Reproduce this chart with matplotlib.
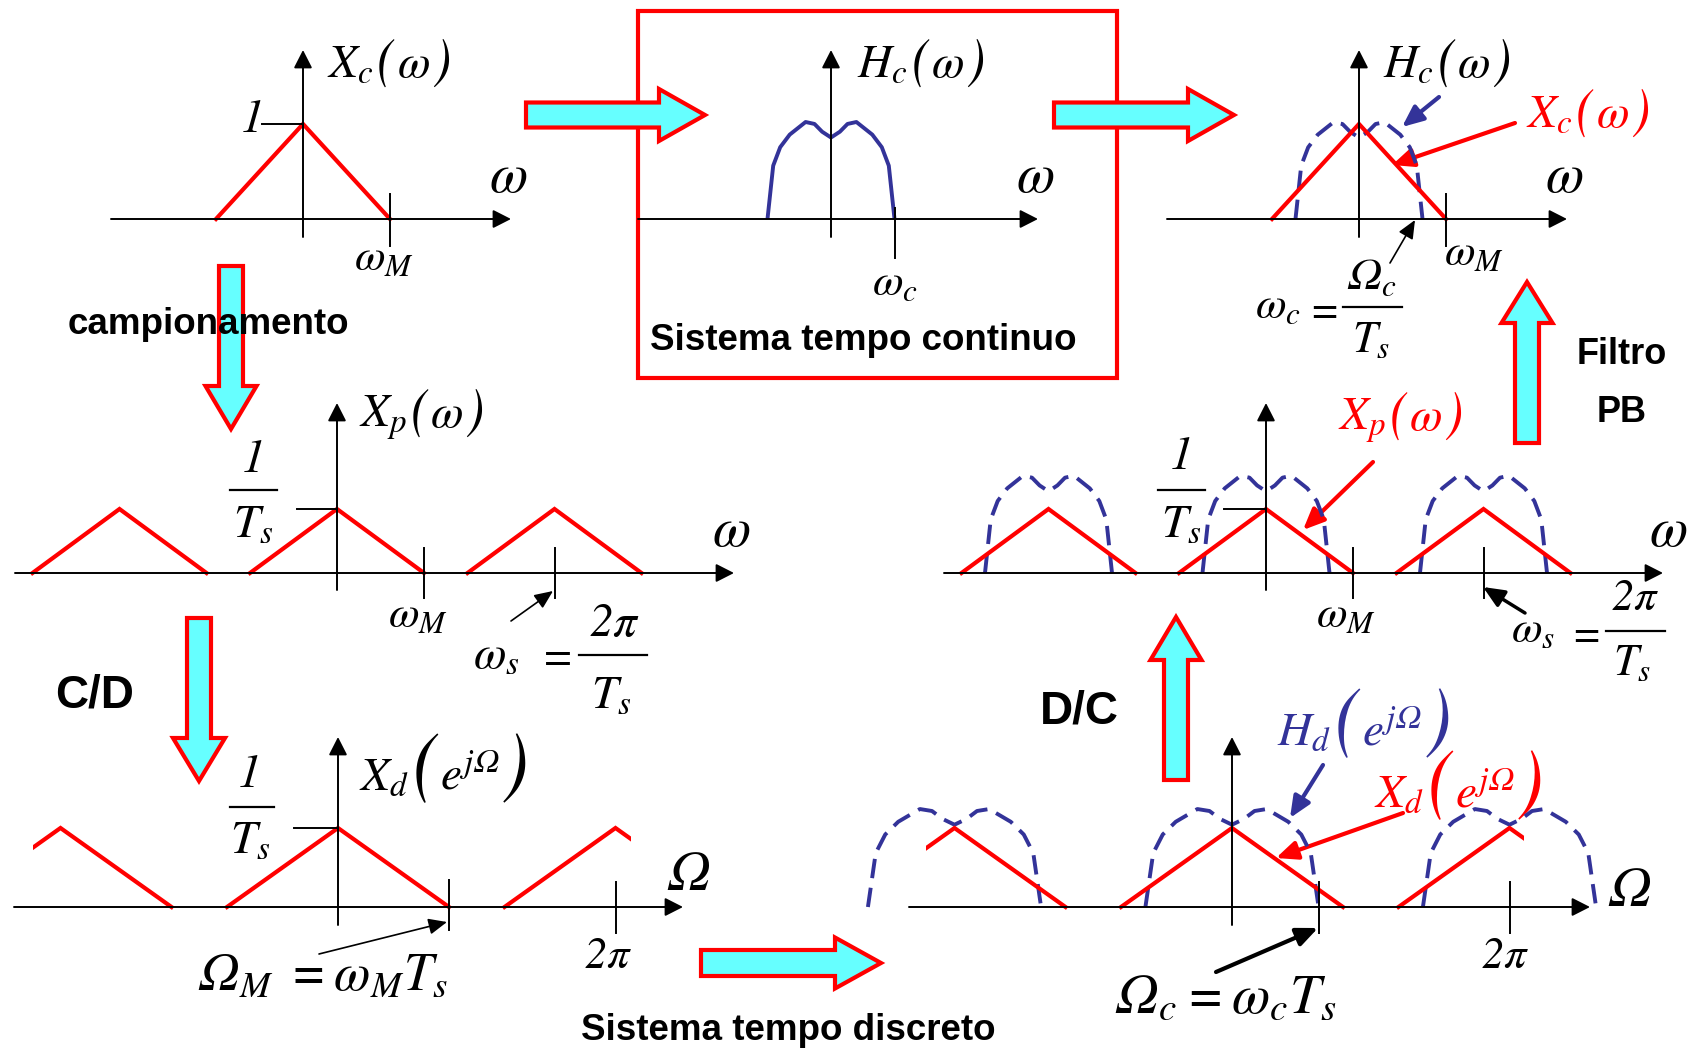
import numpy as np
import matplotlib
matplotlib.use("Agg")
import matplotlib.pyplot as plt
from matplotlib.patches import Polygon, Rectangle

# formule in stile Times corsivo (come l'editor di equazioni)
plt.rcParams['mathtext.fontset'] = 'custom'
plt.rcParams['mathtext.rm'] = 'STIXGeneral:italic'
plt.rcParams['mathtext.it'] = 'STIXGeneral:italic'
plt.rcParams['mathtext.bf'] = 'STIXGeneral:bold'
plt.rcParams['font.family'] = ['Liberation Sans', 'DejaVu Sans']

W, H = 1691, 1054
RED = '#FF0000'
BLUE = '#333399'
CYAN = '#66FFFF'

# === Dati (unità normalizzate) ===
# spettro triangolare: pulsazione / omega_M, ampiezza
TRI_W = [-1.0, 0.0, 1.0]
TRI_A = [0.0, 1.0, 0.0]
# filtro passa-basso, mezza forma: pulsazione / omega_c, guadagno / picco
HC_W = [0.0, 0.14, 0.26, 0.40, 0.65, 0.80, 0.91, 1.0]
HC_G = [0.84, 0.90, 0.98, 1.00, 0.87, 0.74, 0.55, 0.0]
REPLICAS = [-1, 0, 1]
WC_WM = 0.73      # omega_c / omega_M
WS_WM = 2.5       # omega_s / omega_M  (= 2pi / Omega_M nel discreto)
OMC_OMM = 0.78    # Omega_c / Omega_M
GAIN_HC = 1.0
GAIN_HC_X = 1.02
GAIN_HC_P = 1.52
GAIN_HD = 1.24

# posizione dei pannelli in pixel: origine, scala, estensione assi
PANELS = {
    'xc':  dict(o=(303, 219), s=(87, 95), xa=(111, 511), ya=(237, 50)),
    'hc':  dict(o=(831, 219), s=(87, 97), xa=(638, 1038), ya=(237, 50)),
    'y':   dict(o=(1359, 219), s=(87, 95), xa=(1167, 1567), ya=(237, 50)),
    'xp':  dict(o=(337, 573), s=(87, 64), xa=(15, 734), ya=(590, 403)),
    'xp2': dict(o=(1266, 573), s=(87, 64), xa=(944, 1663), ya=(590, 403)),
    'xd':  dict(o=(338, 907), s=(111, 79), xa=(14, 683), ya=(925, 737)),
    'xd2': dict(o=(1232, 907), s=(111, 79), xa=(909, 1590), ya=(925, 737)),
}

fig = plt.figure(figsize=(W / 100, H / 100), dpi=100)
base = fig.add_axes([0, 0, 1, 1])
base.set_xlim(0, W)
base.set_ylim(H, 0)
base.set_axis_off()
renderer = fig.canvas.get_renderer()

AXARROW = dict(arrowstyle='-|>,head_length=0.55,head_width=0.28', lw=1.4,
               color='black', shrinkA=0, shrinkB=0, mutation_scale=20)


def make_panel(p):
    ox, oy = p['o']
    sx, sy = p['s']
    ax = fig.add_axes([0, 0, 1, 1])
    ax.set_xlim(-ox / sx, (W - ox) / sx)
    ax.set_ylim(-(H - oy) / sy, oy / sy)
    ax.set_axis_off()
    ux = lambda x: (x - ox) / sx
    uy = lambda y: (oy - y) / sy
    ax.annotate('', xy=(ux(p['xa'][1]), 0), xytext=(ux(p['xa'][0]), 0), arrowprops=AXARROW)
    ax.annotate('', xy=(0, uy(p['ya'][1])), xytext=(0, uy(p['ya'][0])), arrowprops=AXARROW)
    return ax, ux, uy


def tick(ax, uy, x, y0, y1):
    ax.plot([x, x], [uy(y0), uy(y1)], color='black', lw=1.4)


def level(ax, ux, x0, amp):
    ax.plot([ux(x0), 0], [amp, amp], color='black', lw=1.4)


def triangles(ax, centers, clip=None):
    for c in centers:
        xs = c * WS_WM + np.array(TRI_W)
        ln, = ax.plot(xs, TRI_A, color=RED, lw=3, solid_joinstyle='miter')
        if clip is not None:
            ln.set_clip_path(Rectangle((clip[0], -5), clip[1] - clip[0], 10,
                                       transform=ax.transData))


def filt(ax, center, width, gain, dashed):
    w = np.concatenate([-np.array(HC_W[::-1]), np.array(HC_W[1:])])
    g = np.concatenate([HC_G[::-1], HC_G[1:]])
    ax.plot(center + w * width, g * gain, color=BLUE, lw=2.8,
            ls=(0, (5, 2.5)) if dashed else '-', solid_capstyle='butt')


def block_arrow(tail, tip, shaft_w, head_w, head_len):
    tail = np.array(tail, float)
    tip = np.array(tip, float)
    d = tip - tail
    u = d / np.hypot(*d)
    n = np.array([-u[1], u[0]])
    b = tip - u * head_len
    pts = [tail + n * shaft_w / 2, b + n * shaft_w / 2, b + n * head_w / 2, tip,
           b - n * head_w / 2, b - n * shaft_w / 2, tail - n * shaft_w / 2]
    base.add_patch(Polygon(pts, closed=True, fc=CYAN, ec=RED, lw=3,
                           joinstyle='miter', zorder=4))


def pointer(tail, tip, color='black', lw=1.2, scale=14):
    base.annotate('', xy=tip, xytext=tail,
                  arrowprops=dict(arrowstyle='-|>,head_length=0.8,head_width=0.35',
                                  color=color, lw=lw, shrinkA=0, shrinkB=0,
                                  mutation_scale=scale))


def T(x, y, s, size=34, color='black', ha='left', va='baseline', **kw):
    return base.text(x, y, s, fontsize=size, color=color, ha=ha, va=va, zorder=6, **kw)


def flabel(x, y, name, arg, size=34, psize=40, color='black', pdy=0):
    # nome della funzione seguito da argomento tra parentesi grandi
    pieces = [('$%s$' % name, size, 0, 3), ('$($', psize, pdy, 1),
              ('$%s$' % arg, size, 0, 2), ('$)$', psize, pdy, 0)]
    for s, sz, dy, gap in pieces:
        t = T(x, y + dy, s, size=sz, color=color)
        x += t.get_window_extent(renderer).width + gap


def bold(x, y, s, size=26.5):
    base.text(x, y, s, fontsize=size, fontweight='bold', ha='center', va='center', zorder=6)


def frac_bar(x0, x1, y):
    base.plot([x0, x1], [y, y], color='black', lw=1.6)


# --- riquadro sistema tempo continuo ---
base.add_patch(Rectangle((638, 11), 1117 - 638, 378 - 11, fill=False, ec=RED, lw=3, zorder=2))

# --- frecce a blocchi ---
block_arrow((526, 115), (705, 115), 25, 52, 46)
block_arrow((1054, 115), (1234, 115), 25, 52, 46)
block_arrow((231, 266), (231, 429), 24, 51, 43)
block_arrow((199, 618), (199, 781), 24, 52, 43)
block_arrow((701, 963), (881, 963), 26, 51, 46)
block_arrow((1176, 780), (1176, 617), 24, 51, 43)
block_arrow((1527, 443), (1527, 282), 24, 51, 41)

# --- pannello X_c ---
ax, ux, uy = make_panel(PANELS['xc'])
triangles(ax, [0])
tick(ax, uy, 1, 194, 246)
level(ax, ux, 262, 1)

# --- pannello H_c ---
ax, ux, uy = make_panel(PANELS['hc'])
filt(ax, 0, WC_WM, GAIN_HC, dashed=False)
tick(ax, uy, WC_WM, 208, 258)

# --- pannello uscita X_c con H_c ---
ax, ux, uy = make_panel(PANELS['y'])
filt(ax, 0, WC_WM, GAIN_HC_X, dashed=True)
triangles(ax, [0])
tick(ax, uy, 1, 194, 246)

# --- pannello X_p ---
ax, ux, uy = make_panel(PANELS['xp'])
triangles(ax, REPLICAS)
tick(ax, uy, 1, 548, 598)
tick(ax, uy, WS_WM, 548, 598)
level(ax, ux, 297, 1)

# --- pannello X_p con H_c ---
ax, ux, uy = make_panel(PANELS['xp2'])
for c in REPLICAS:
    filt(ax, c * WS_WM, WC_WM, GAIN_HC_P, dashed=True)
triangles(ax, REPLICAS)
tick(ax, uy, 1, 548, 598)
tick(ax, uy, WS_WM, 548, 598)
level(ax, ux, 1224, 1)

# --- pannello X_d ---
ax, ux, uy = make_panel(PANELS['xd'])
triangles(ax, REPLICAS, clip=(ux(33), ux(631)))
tick(ax, uy, 1, 880, 930)
tick(ax, uy, WS_WM, 882, 933)
level(ax, ux, 294, 1)

# --- pannello X_d con H_d ---
ax, ux, uy = make_panel(PANELS['xd2'])
for c in REPLICAS:
    filt(ax, c * WS_WM, OMC_OMM, GAIN_HD, dashed=True)
triangles(ax, REPLICAS, clip=(ux(926), ux(1524)))
tick(ax, uy, OMC_OMM, 882, 933)
tick(ax, uy, WS_WM, 882, 933)

# --- frecce indicatrici ---
pointer((511, 621), (553, 591))
pointer((319, 954), (447, 922))
pointer((1390, 263), (1415, 220))
pointer((1525, 613), (1483, 587), lw=2.5, scale=16)
pointer((1216, 972), (1318, 928), lw=3, scale=16)
pointer((1439, 97), (1402, 127), color=BLUE, lw=3, scale=16)
pointer((1323, 765), (1290, 818), color=BLUE, lw=3, scale=16)
pointer((1515, 123), (1392, 165), color=RED, lw=3, scale=16)
pointer((1373, 462), (1303, 530), color=RED, lw=3, scale=16)
pointer((1403, 813), (1276, 858), color=RED, lw=3, scale=16)

# --- testi ---
# riga superiore
flabel(327, 77, 'X_c', r'\omega')
T(251, 120, r'$1$', ha='center', va='center')
T(508, 178, r'$\omega$', size=40, ha='center', va='center')
T(354, 270, r'$\omega_M$', size=32)
bold(208, 325, 'campionamento')
flabel(857, 77, 'H_c', r'\omega')
T(1035, 178, r'$\omega$', size=40, ha='center', va='center')
T(872, 295, r'$\omega_c$', size=32)
bold(863, 340, 'Sistema tempo continuo')
flabel(1383, 77, 'H_c', r'\omega')
flabel(1526, 127, 'X_c', r'\omega', color=RED)
T(1564, 178, r'$\omega$', size=40, ha='center', va='center')
T(1444, 265, r'$\omega_M$', size=32)
T(1255, 318, r'$\omega_c$', size=32)
T(1320, 310, r'$=$', size=32, ha='center', va='center')
frac_bar(1343, 1402, 307)
T(1347, 290, r'$\Omega_c$', size=32)
T(1352, 352, r'$T_s$', size=32)
bold(1622, 355, 'Filtro', 26)
bold(1622, 412, 'PB', 26)

# riga centrale
flabel(359, 427, 'X_p', r'\omega')
T(252, 460, r'$1$', ha='center', va='center')
frac_bar(230, 277, 490)
T(233, 537, r'$T_s$', size=34)
T(731, 532, r'$\omega$', size=40, ha='center', va='center')
T(388, 627, r'$\omega_M$', size=32)
T(473, 668, r'$\omega_s$', size=34)
T(553, 657, r'$=$', size=34, ha='center', va='center')
frac_bar(579, 647, 655)
T(614, 624, r'$2\pi$', size=34, ha='center', va='center')
T(591, 708, r'$T_s$', size=34)
bold(95, 696, 'C/D', 33)

flabel(1338, 430, 'X_p', r'\omega', color=RED)
T(1180, 457, r'$1$', ha='center', va='center')
frac_bar(1158, 1205, 490)
T(1161, 537, r'$T_s$', size=34)
T(1668, 532, r'$\omega$', size=40, ha='center', va='center')
T(1316, 627, r'$\omega_M$', size=32)
T(1511, 642, r'$\omega_s$', size=32)
T(1582, 634, r'$=$', size=32, ha='center', va='center')
frac_bar(1606, 1665, 631)
T(1635, 599, r'$2\pi$', size=32, ha='center', va='center')
T(1613, 675, r'$T_s$', size=32)
bold(1079, 712, 'D/C', 33)

# riga inferiore
flabel(359, 790, 'X_d', r'e^{j\Omega}', psize=58, pdy=-2)
T(248, 775, r'$1$', ha='center', va='center')
frac_bar(230, 274, 807)
T(230, 853, r'$T_s$', size=34)
T(689, 876, r'$\Omega$', size=40, ha='center', va='center')
T(198, 990, r'$\Omega_M\;=\omega_M T_s$', size=38)
T(608, 957, r'$2\pi$', size=32, ha='center', va='center')
bold(788, 1030, 'Sistema tempo discreto')

flabel(1277, 745, 'H_d', r'e^{j\Omega}', psize=58, pdy=-2, color=BLUE)
flabel(1374, 807, 'X_d', r'e^{j\Omega}', psize=58, pdy=-2, color=RED)
T(1630, 892, r'$\Omega$', size=40, ha='center', va='center')
T(1115, 1012, r'$\Omega_c=\omega_c T_s$', size=40)
T(1505, 957, r'$2\pi$', size=32, ha='center', va='center')

fig.savefig('out.png', dpi=100)
